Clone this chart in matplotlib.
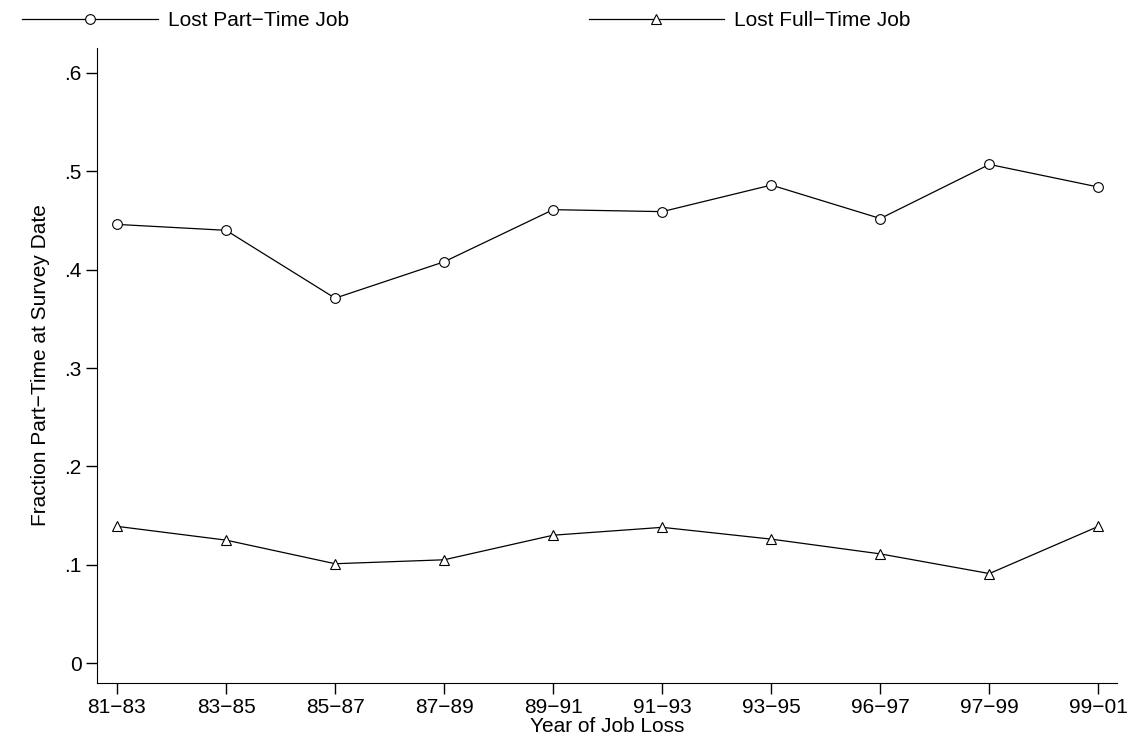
import numpy as np
import matplotlib.pyplot as plt

plt.rcParams['font.family'] = ['Liberation Sans', 'DejaVu Sans']

periods = ['81\u221283', '83\u221285', '85\u221287', '87\u221289', '89\u221291',
           '91\u221293', '93\u221295', '96\u221297', '97\u221299', '99\u221201']
lost_part = [0.446, 0.440, 0.371, 0.408, 0.461, 0.459, 0.486, 0.452, 0.507, 0.484]
lost_full = [0.139, 0.125, 0.101, 0.105, 0.130, 0.138, 0.126, 0.111, 0.091, 0.139]

fig = plt.figure(figsize=(11.27, 7.5), dpi=100)
ax = fig.add_axes([0.0861, 0.0893, 0.905, 0.847])
x = np.arange(len(periods))
ax.plot(x, lost_part, color='black', lw=0.9, marker='o', ms=7, mfc='white', mec='black', mew=0.8,
        label='Lost Part\u2212Time Job')
ax.plot(x, lost_full, color='black', lw=0.9, marker='^', ms=7, mfc='white', mec='black', mew=0.8,
        label='Lost Full\u2212Time Job')

ax.set_xlim(-0.183, 9.17)
ax.set_ylim(-0.0203, 0.6256)
ax.set_xticks(x)
ax.set_xticklabels(periods)
yt = [0, 0.1, 0.2, 0.3, 0.4, 0.5, 0.6]
ax.set_yticks(yt)
ax.set_yticklabels(['0', '.1', '.2', '.3', '.4', '.5', '.6'])
ax.tick_params(labelsize=15, length=8, width=1, direction='out', pad=3)
for s in ['top', 'right']:
    ax.spines[s].set_visible(False)
ax.set_xlabel('Year of Job Loss', fontsize=15, labelpad=0)
ax.set_ylabel('Fraction Part\u2212Time at Survey Date', fontsize=15, labelpad=10)

fig.legend(loc='upper left', bbox_to_anchor=(0.003, 1.01), ncol=2, frameon=False,
           fontsize=15, handlelength=6.5, handletextpad=0.5, columnspacing=11.5)

fig.savefig('out.png', dpi=100)
